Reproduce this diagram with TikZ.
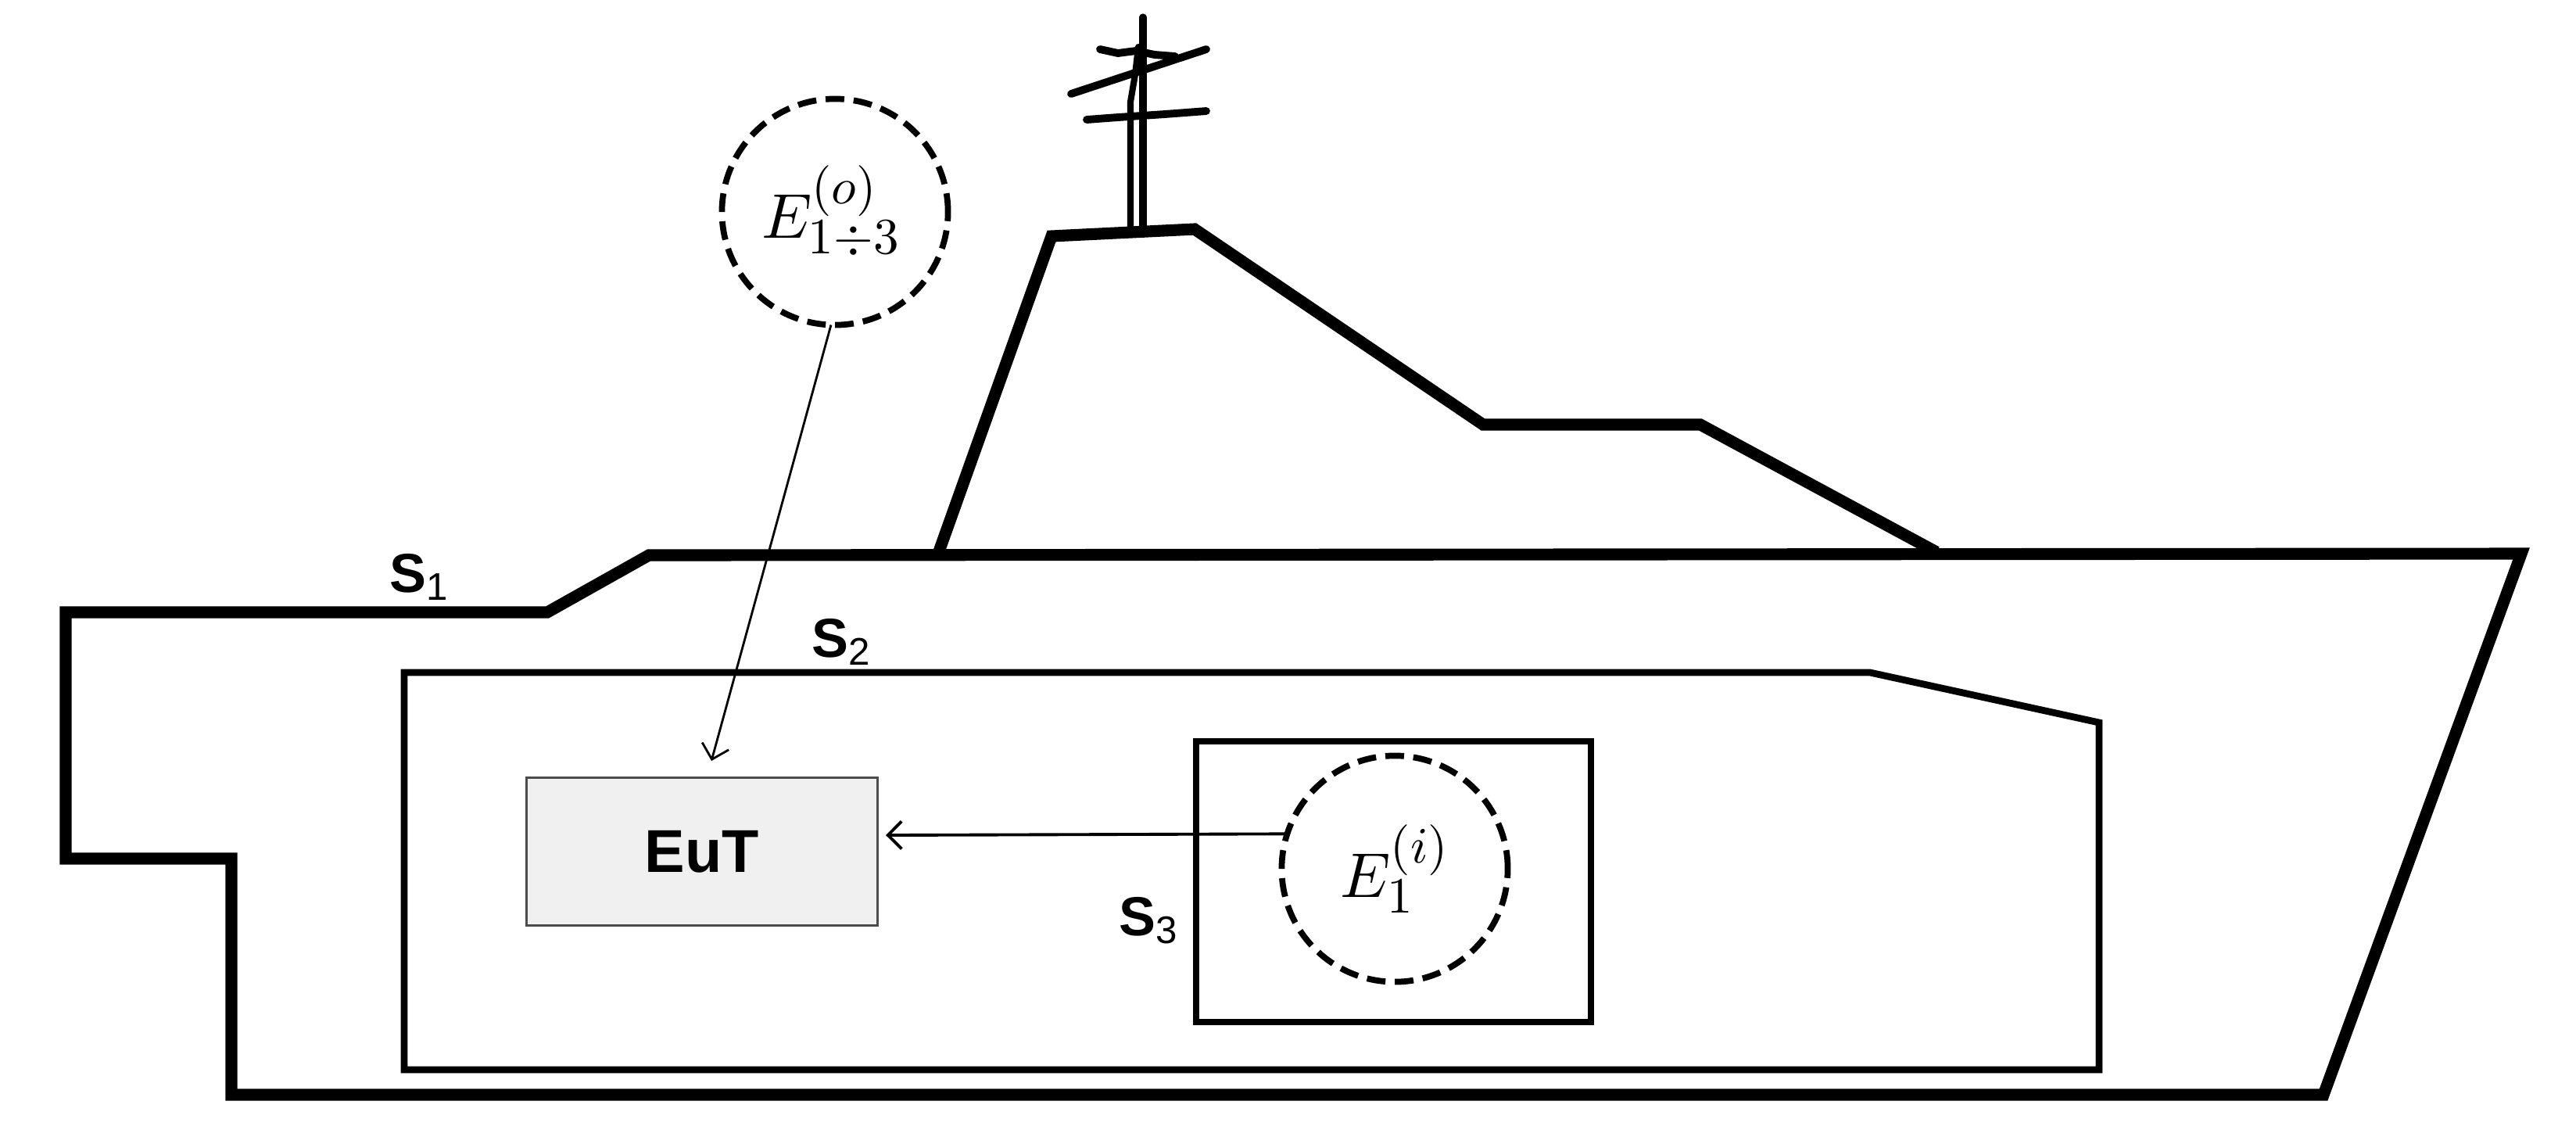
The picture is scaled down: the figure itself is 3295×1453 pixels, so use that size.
\documentclass[tikz,border=0pt]{standalone}
\usepackage[no-math]{fontspec}
\setmainfont{Liberation Sans}
\usetikzlibrary{arrows.meta}
\DeclareFontShape{OML}{cmm}{m}{it}{<->cmmi10}{}
\DeclareFontShape{OMS}{cmsy}{m}{n}{<->cmsy10}{}
\DeclareFontShape{OT1}{cmr}{m}{n}{<->cmr10}{}
\newcommand{\fieldsub}[1]{\raisebox{-2pt}{\scalebox{1.15}{$\scriptstyle #1$}}}
\newcommand{\fieldsup}[1]{\raisebox{2pt}{\scalebox{1.15}{$\scriptstyle #1$}}}
\tikzset{
    hullline/.style={line width=4.3pt, miter limit=4},
    roomline/.style={line width=2.5pt},
    mastline/.style={line width=2.3pt, line cap=round, line join=round},
    crossbar/.style={mastline, line width=2.8pt},
    fieldcircle/.style={draw, circle, line width=2.2pt, dash pattern=on 6.8pt off 3.4pt, minimum size=2.89cm, inner sep=0pt, outer sep=0pt, font=\fontsize{23}{26}\selectfont},
    fieldarrow/.style={-{Straight Barb[length=5pt, width=10pt]}},
    surflabel/.style={font=\fontsize{20}{24}\selectfont, inner sep=0pt}
}
\begin{document}
\begin{tikzpicture}[x=0.01cm, y=-0.01cm]
    \useasboundingbox (0,0) rectangle (3295,1453);

    % ship outline and superstructure
    \draw[hullline] (84,783) -- (700,783) -- (830,710) -- (3225,708) -- (2972,1400) -- (296,1400) -- (296,1098) -- (84,1098) -- cycle;
    \draw[hullline] (1200,708) -- (1345,302) -- (1528,293) -- (1897,543) -- (2175,543) -- (2477,706);

    % mast
    \draw[mastline] (1446,290) -- (1446,130) -- (1452,95) -- (1456,60);
    \draw[mastline, line width=2.6pt] (1462,22) -- (1462,298);
    \draw[crossbar] (1407,63) -- (1430,68) -- (1453,65) -- (1477,70) -- (1503,72);
    \draw[crossbar] (1370,120) -- (1543,63);
    \draw[crossbar] (1390,153) -- (1430,150) -- (1490,146) -- (1543,142);

    % inner compartments
    \draw[roomline] (517,860) -- (2392,860) -- (2685,924) -- (2685,1368) -- (517,1368) -- cycle;
    \draw[roomline] (1530,948) rectangle (2035,1307);

    % equipment and field points
    \node[draw=black!70, line width=0.8pt, fill=black!6, minimum width=4.49cm, minimum height=1.89cm, inner sep=0pt, font=\bfseries\fontsize{22}{26}\selectfont] (eut) at (898,1089) {EuT};
    \node[fieldcircle] (eo) at (1068,271) {\raisebox{2.5pt}{$E_{\fieldsub{1\div 3}}^{\fieldsup{(o)}}$}\hspace*{3pt}};
    \node[fieldcircle] (ei) at (1784,1111) {\raisebox{5pt}{$E_{\fieldsub{1}}^{\fieldsup{(i)}}$}};

    % arrow ends
    \coordinate (eotip) at (910,973);
    \coordinate (eitip) at (1133,1068);
    \draw[fieldarrow, line width=0.8pt] (eo.-92) -- (eotip);
    \draw[fieldarrow, line width=1.1pt] (ei.162.7) -- (eitip);

    % surface labels
    \node[surflabel] (s1) at (537,738) {\textbf{S}\textsubscript{1}};
    \node[surflabel] (s2) at (1077,821) {\textbf{S}\textsubscript{2}};
    \node[surflabel] (s3) at (1470,1177) {\textbf{S}\textsubscript{3}};
\end{tikzpicture}
\end{document}
